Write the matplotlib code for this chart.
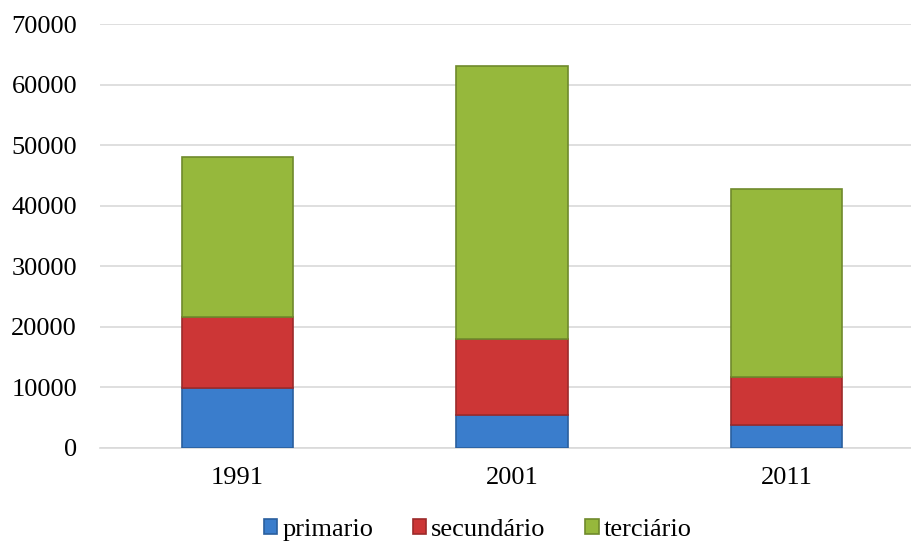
import numpy as np
import matplotlib.pyplot as plt

anos = ['1991', '2001', '2011']
primario = [9900, 5400, 3800]
secundario = [11800, 12600, 7900]
terciario = [26300, 45000, 31000]

plt.rcParams['font.family'] = ['Liberation Serif', 'DejaVu Serif']

fig = plt.figure(figsize=(9.12, 5.47), dpi=100)
# the plot area runs a little past the right edge, as in the original
ax = fig.add_axes([0.1096, 0.181, 0.9035, 0.775])

x = np.arange(len(anos))
w = 0.405
cores = ['#3a7dcc', '#cc3636', '#96b83c']
bordas = ['#2a5f9e', '#9c2a2a', '#6f8a2c']
base = np.zeros(len(anos))
for vals, nome, c, b in zip([primario, secundario, terciario],
                            ['primario', 'secundário', 'terciário'], cores, bordas):
    ax.bar(x, vals, w, bottom=base, color=c, edgecolor=b, linewidth=1.2,
           label=nome, zorder=3)
    base += np.array(vals)

ax.set_ylim(0, 70000)
ax.set_xlim(-0.5, 2.5)
ax.set_yticks(range(0, 70001, 10000))
ax.set_xticks(x)
ax.set_xticklabels(anos)
ax.yaxis.grid(True, color='#d9d9d9', linewidth=1.2, zorder=0)
for s in ['top', 'right', 'left']:
    ax.spines[s].set_visible(False)
ax.spines['bottom'].set_color('#d9d9d9')
ax.spines['bottom'].set_linewidth(1.2)
ax.tick_params(axis='both', length=0, labelsize=19, colors='black')
ax.tick_params(axis='y', pad=16.5)
ax.tick_params(axis='x', pad=14)

handles, labels = ax.get_legend_handles_labels()
fig.legend(handles, labels, loc='center', bbox_to_anchor=(0.524, 0.031), ncol=3,
           frameon=False, fontsize=19, handlelength=0.5, handleheight=0.5,
           handletextpad=0.2, columnspacing=1.5)

fig.savefig('out.png', dpi=100)
